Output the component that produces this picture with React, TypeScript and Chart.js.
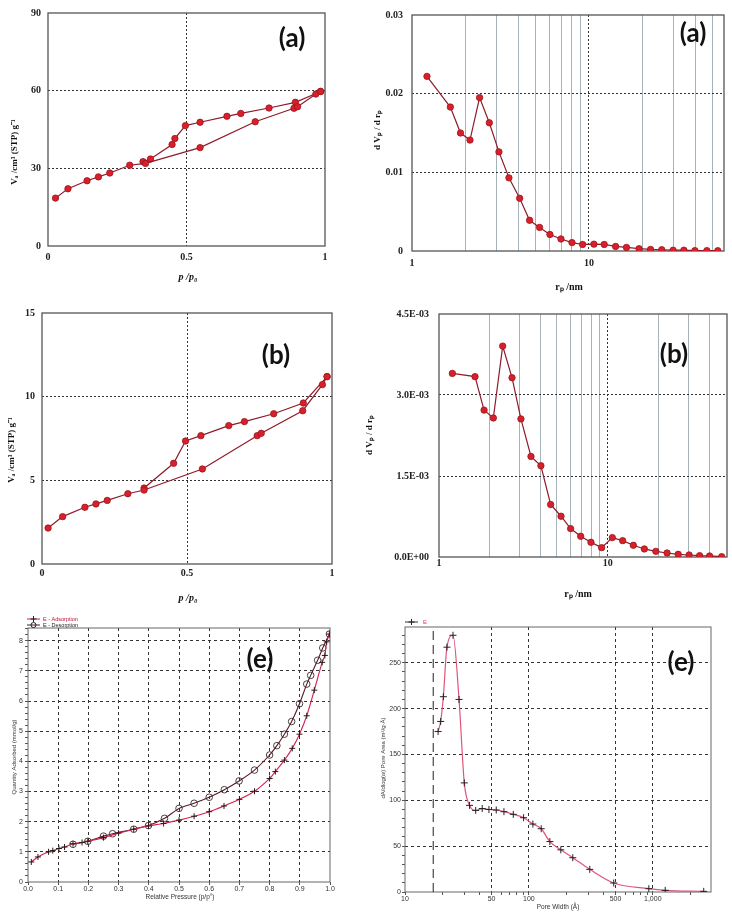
import React, { useEffect, useRef } from 'react';
import { Chart, registerables } from 'chart.js';

Chart.register(...registerables);

// ---------------- DATA ----------------
// (a) isotherm  p/p0 vs Va
const isoA_adsP = [0.027, 0.072, 0.141, 0.182, 0.223, 0.295, 0.352, 0.549, 0.748, 0.888, 0.901, 0.967, 0.984];
const isoA_adsV = [18.5, 22.1, 25.2, 26.7, 28.2, 31.2, 31.9, 38.0, 48.0, 53.2, 53.8, 58.7, 59.7];
const isoA_desP = [0.984, 0.893, 0.798, 0.696, 0.646, 0.549, 0.496, 0.458, 0.448, 0.37, 0.343];
const isoA_desV = [59.7, 55.5, 53.3, 51.2, 50.1, 47.8, 46.5, 41.5, 39.2, 33.6, 32.6];

// (a) pore size distribution  rp vs dVp/drp
const psdA_r = [1.215, 1.647, 1.88, 2.127, 2.41, 2.735, 3.1, 3.53, 4.06, 4.62, 5.26, 6.02, 6.95, 8.02, 9.21, 10.67, 12.2, 14.15, 16.3, 19.2, 22.3, 25.8, 29.9, 34.4, 39.7, 46.4, 53.5];
const psdA_dv = [0.0222, 0.0183, 0.015, 0.0141, 0.0195, 0.0163, 0.0126, 0.0093, 0.0067, 0.0039, 0.003, 0.0021, 0.00153, 0.00107, 0.00083, 0.00087, 0.00083, 0.00058, 0.00045, 0.00029, 0.0002, 0.00016, 0.0001, 0.0001, 0.00005, 0.00005, 0.00004];

// (b) isotherm
const isoB_adsP = [0.021, 0.071, 0.148, 0.186, 0.225, 0.296, 0.352, 0.553, 0.742, 0.756, 0.899, 0.967, 0.983];
const isoB_adsV = [2.15, 2.83, 3.39, 3.59, 3.8, 4.2, 4.42, 5.68, 7.67, 7.81, 9.16, 10.72, 11.2];
const isoB_desP = [0.983, 0.901, 0.799, 0.698, 0.644, 0.548, 0.495, 0.454, 0.352];
const isoB_desV = [11.2, 9.62, 8.98, 8.51, 8.27, 7.67, 7.35, 6.02, 4.54];

// (b) pore size distribution
const psdB_r = [1.2, 1.635, 1.85, 2.1, 2.386, 2.71, 3.06, 3.51, 4.02, 4.59, 5.29, 6.03, 6.92, 7.96, 9.21, 10.66, 12.27, 14.2, 16.5, 19.3, 22.5, 26.2, 30.4, 35.1, 40.2, 47.4];
const psdB_dv = [3.4e-3, 3.34e-3, 2.72e-3, 2.575e-3, 3.906e-3, 3.32e-3, 2.557e-3, 1.863e-3, 1.69e-3, 0.972e-3, 0.755e-3, 0.526e-3, 0.384e-3, 0.272e-3, 0.173e-3, 0.359e-3, 0.303e-3, 0.217e-3, 0.149e-3, 0.105e-3, 0.074e-3, 0.05e-3, 0.037e-3, 0.025e-3, 0.019e-3, 0.006e-3];

// (e) isotherm  relative pressure vs quantity adsorbed (mmol/g)
const isoE_adsP = [0.011, 0.033, 0.068, 0.082, 0.1025, 0.121, 0.149, 0.179, 0.198, 0.25, 0.3, 0.35, 0.399, 0.449, 0.5, 0.55, 0.6, 0.649, 0.7, 0.75, 0.8, 0.819, 0.849, 0.875, 0.899, 0.923, 0.948, 0.974, 0.983, 0.989, 0.998];
const isoE_adsQ = [0.665, 0.83, 1.0, 1.04, 1.11, 1.16, 1.27, 1.31, 1.35, 1.47, 1.62, 1.75, 1.86, 1.94, 2.05, 2.18, 2.33, 2.52, 2.74, 3.01, 3.43, 3.66, 4.04, 4.43, 4.9, 5.51, 6.36, 7.28, 7.51, 7.96, 8.22];
const isoE_desP = [0.998, 0.976, 0.959, 0.936, 0.923, 0.899, 0.873, 0.849, 0.824, 0.8, 0.75, 0.699, 0.65, 0.6, 0.55, 0.5, 0.452, 0.399, 0.35, 0.28, 0.25, 0.198, 0.149];
const isoE_desQ = [8.22, 7.76, 7.35, 6.85, 6.56, 5.91, 5.32, 4.9, 4.52, 4.21, 3.71, 3.35, 3.06, 2.81, 2.61, 2.44, 2.11, 1.87, 1.75, 1.6, 1.52, 1.35, 1.25];

// (e) pore area distribution  pore width (Å) vs dA/dlog(w)
const psdE_w = [18.5, 19.4, 20.4, 21.8, 24.4, 27.3, 30.1, 33.2, 37.2, 42.0, 47.6, 54.5, 62.9, 74.8, 90.6, 107.7, 125.7, 147.6, 181, 226, 310, 484, 929, 1260, 2578];
const psdE_a = [175, 186, 213, 267, 280, 210, 119, 94.5, 89, 91, 90, 89.4, 87.6, 84.7, 81, 74.1, 69, 55, 46, 37.4, 24.7, 9.8, 3.6, 1.8, 0.7];
const psdE_cutW = [16.9, 16.9];
const psdE_cutA = [0, 289];

// tick values
const isoTicksX = [0, 0.5, 1];
const isoA_ticksY = [0, 30, 60, 90];
const isoB_ticksY = [0, 5, 10, 15];
const psdA_ticksY = [0, 0.01, 0.02, 0.03];
const psdB_ticksY = [0, 1.5e-3, 3.0e-3, 4.5e-3];
const logMajor = [1, 10];
const logMinorA = [2, 3, 4, 5, 6, 7, 8, 9, 20, 30, 40, 50];
const logMinorB = [2, 3, 4, 5, 6, 7, 8, 9, 20, 30, 40];
const isoE_ticksX = [0, 0.1, 0.2, 0.3, 0.4, 0.5, 0.6, 0.7, 0.8, 0.9, 1.0];
const isoE_ticksY = Array.from({ length: 43 }, (_, i) => Math.round(i * 2) / 10);
const isoE_gridY = [1, 2, 3, 4, 5, 6, 7, 8];
const psdE_ticksX = [10, 20, 30, 40, 50, 60, 70, 80, 90, 100, 200, 300, 400, 500, 600, 700, 800, 900, 1000, 2000];
const psdE_labelsX: Record<number, string> = { 10: '10', 50: '50', 100: '100', 500: '500', 1000: '1,000' };
const psdE_gridX = [50, 100, 500, 1000];
const psdE_ticksY = Array.from({ length: 29 }, (_, i) => i * 10);
const psdE_gridY = [50, 100, 150, 200, 250];

// ---------------- HELPERS ----------------
const SERIF = '"Liberation Serif", "Times New Roman", serif';
const SANS = '"Liberation Sans", Arial, sans-serif';
const TAG = 'Lato, "Open Sans", sans-serif';

const pts = (xs: number[], ys: number[]) => xs.map((x, i) => ({ x, y: ys[i] }));
const inList = (v: number, list: number[]) => list.some((w) => Math.abs(v - w) <= 1e-9 * Math.max(1, Math.abs(w)));
const sci = (v: number) => {
  if (v === 0) return '0.0E+00';
  const e = Math.floor(Math.log10(v) + 1e-9);
  const m = v / Math.pow(10, e);
  return m.toFixed(1) + 'E' + (e < 0 ? '-' : '+') + String(Math.abs(e)).padStart(2, '0');
};

type AxisOpts = {
  type?: 'linear' | 'logarithmic';
  position: 'left' | 'bottom';
  min: number; max: number;
  values: number[];
  label: (v: number) => string;
  size: number; pad: number;
  font: any; color: string;
  gridAt: number[]; gridColor: string; gridDash: number[];
  minorAt?: number[]; minorColor?: string;
  tickLen?: number;
};

function axis(o: AxisOpts) {
  const styleOf = (v: number | undefined) => {
    if (v === undefined || v === null) return { c: 'rgba(0,0,0,0)', d: [] as number[] };
    if (inList(v, o.gridAt)) return { c: o.gridColor, d: o.gridDash };
    if (o.minorAt && inList(v, o.minorAt)) return { c: o.minorColor || '#aaa', d: [] as number[] };
    return { c: 'rgba(0,0,0,0)', d: [] as number[] };
  };
  return {
    type: o.type || 'linear',
    position: o.position,
    min: o.min,
    max: o.max,
    afterBuildTicks: (s: any) => { s.ticks = o.values.map((v) => ({ value: v })); },
    afterFit: (s: any) => { if (o.position === 'left') s.width = o.size; else s.height = o.size; },
    ticks: {
      autoSkip: false, maxRotation: 0, minRotation: 0, padding: o.pad,
      font: o.font, color: o.color,
      callback: (v: any) => o.label(Number(v)),
    },
    grid: {
      color: (c: any) => styleOf(c.tick ? c.tick.value : undefined).c,
      lineWidth: 1,
      drawTicks: !!o.tickLen,
      tickLength: o.tickLen || 0,
      tickColor: '#555',
      tickWidth: 1,
    },
    border: { display: false, dash: (c: any) => styleOf(c.tick ? c.tick.value : undefined).d },
  };
}

type TextItem = { t: string; x: number; y: number; font: string; color?: string; rot?: number; align?: CanvasTextAlign };

type PanelDef = {
  left: number; top: number; width: number; height: number;
  padT: number; padR: number;
  datasets: any[];
  x: any; y: any;
  texts: TextItem[];
  frame: { color: string; width: number };
  extra?: (ctx: CanvasRenderingContext2D) => void;
};

function legendRow(ctx: CanvasRenderingContext2D, x0: number, x1: number, y: number, marker: 'cross' | 'circle', lineColor: string, text: string, textColor: string, gap: number, size: number) {
  ctx.strokeStyle = lineColor;
  ctx.lineWidth = 1;
  ctx.beginPath(); ctx.moveTo(x0, y); ctx.lineTo(x1, y); ctx.stroke();
  const cx = (x0 + x1) / 2;
  ctx.strokeStyle = '#222';
  ctx.beginPath();
  if (marker === 'cross') {
    ctx.moveTo(cx - 3, y); ctx.lineTo(cx + 3, y); ctx.moveTo(cx, y - 3); ctx.lineTo(cx, y + 3);
  } else {
    ctx.arc(cx, y, 2.5, 0, Math.PI * 2);
  }
  ctx.stroke();
  ctx.font = `${size}px ${SANS}`;
  ctx.fillStyle = textColor;
  ctx.textAlign = 'left';
  ctx.textBaseline = 'middle';
  ctx.fillText(text, x1 + gap, y);
}

function overlay(def: PanelDef) {
  return {
    id: 'overlay',
    beforeDatasetsDraw(chart: any) {
      const { ctx, chartArea: a } = chart;
      ctx.save();
      ctx.strokeStyle = def.frame.color;
      ctx.lineWidth = def.frame.width;
      ctx.strokeRect(a.left, a.top, a.right - a.left, a.bottom - a.top);
      ctx.restore();
    },
    afterDraw(chart: any) {
      const ctx: CanvasRenderingContext2D = chart.ctx;
      for (const t of def.texts) {
        ctx.save();
        ctx.translate(t.x - def.left, t.y - def.top);
        if (t.rot) ctx.rotate((t.rot * Math.PI) / 180);
        ctx.font = t.font;
        ctx.fillStyle = t.color || '#111';
        ctx.textAlign = t.align || 'center';
        ctx.textBaseline = 'middle';
        ctx.fillText(t.t, 0, 0);
        ctx.restore();
      }
      if (def.extra) {
        ctx.save();
        ctx.translate(-def.left, -def.top);
        def.extra(ctx);
        ctx.restore();
      }
    },
  };
}

function buildConfig(def: PanelDef) {
  return {
    type: 'line',
    data: { datasets: def.datasets },
    options: {
      animation: false,
      responsive: false,
      devicePixelRatio: 1,
      layout: { padding: { top: def.padT, right: def.padR, left: 0, bottom: 0 } },
      plugins: { legend: { display: false }, tooltip: { enabled: false } },
      scales: { x: def.x, y: def.y },
    },
    plugins: [overlay(def)],
  };
}

// ---------------- STYLES ----------------
const isoLine = {
  borderColor: '#8e1b2b', borderWidth: 1.2, pointRadius: 3.2,
  pointBackgroundColor: '#d8202a', pointBorderColor: '#9a1520', pointBorderWidth: 0.8,
  tension: 0, fill: false,
};
const tickSerif = { family: SERIF, size: 10, weight: 'bold' };
const tickSans = { family: SANS, size: 7 };
const DOT = [2, 2];
const DASH = [3, 3];
const MINOR = '#a6b3ba';

// ---------------- PANELS ----------------
const A1: PanelDef = {
  left: 0, top: 0, width: 340, height: 295, padT: 7, padR: 15,
  datasets: [
    { ...isoLine, data: pts(isoA_adsP, isoA_adsV) },
    { ...isoLine, data: pts(isoA_desP, isoA_desV) },
  ],
  x: axis({ position: 'bottom', min: 0, max: 1, values: isoTicksX, label: (v) => String(v), size: 49, pad: 5, font: tickSerif, color: '#222', gridAt: [0.5], gridColor: '#333', gridDash: DOT }),
  y: axis({ position: 'left', min: 0, max: 90, values: isoA_ticksY, label: (v) => String(v), size: 48, pad: 7, font: tickSerif, color: '#222', gridAt: [30, 60], gridColor: '#333', gridDash: DOT }),
  texts: [
    { t: 'Vₐ /cm³ (STP) g⁻¹', x: 15, y: 152, font: `bold 9px ${SERIF}`, rot: -90 },
    { t: 'p /p₀', x: 188, y: 277, font: `italic bold 10px ${SERIF}` },
    { t: '(a)', x: 292, y: 39, font: `bold 26px ${TAG}` },
  ],
  frame: { color: '#555', width: 1.3 },
};

const A2: PanelDef = {
  left: 366, top: 0, width: 366, height: 300, padT: 8, padR: 8,
  datasets: [{ ...isoLine, data: pts(psdA_r, psdA_dv) }],
  x: axis({ type: 'logarithmic', position: 'bottom', min: 1, max: 58, values: [...logMajor, ...logMinorA].sort((a, b) => a - b), label: (v) => (inList(v, logMajor) ? String(v) : ''), size: 49, pad: 6, font: tickSerif, color: '#222', gridAt: [10], gridColor: '#333', gridDash: DOT, minorAt: logMinorA, minorColor: MINOR }),
  y: axis({ position: 'left', min: 0, max: 0.03, values: psdA_ticksY, label: (v) => String(v), size: 46, pad: 9, font: tickSerif, color: '#222', gridAt: [0.01, 0.02], gridColor: '#333', gridDash: DOT }),
  texts: [
    { t: 'd Vₚ / d rₚ', x: 378, y: 130, font: `bold 9px ${SERIF}`, rot: -90 },
    { t: 'rₚ /nm', x: 569, y: 287, font: `bold 10px ${SERIF}` },
    { t: '(a)', x: 693, y: 34, font: `bold 26px ${TAG}` },
  ],
  frame: { color: '#555', width: 1.3 },
};

const B1: PanelDef = {
  left: 0, top: 295, width: 345, height: 310, padT: 18, padR: 13,
  datasets: [
    { ...isoLine, data: pts(isoB_adsP, isoB_adsV) },
    { ...isoLine, data: pts(isoB_desP, isoB_desV) },
  ],
  x: axis({ position: 'bottom', min: 0, max: 1, values: isoTicksX, label: (v) => String(v), size: 41, pad: 3, font: tickSerif, color: '#222', gridAt: [0.5], gridColor: '#333', gridDash: DOT }),
  y: axis({ position: 'left', min: 0, max: 15, values: isoB_ticksY, label: (v) => String(v), size: 42, pad: 7, font: tickSerif, color: '#222', gridAt: [5, 10], gridColor: '#333', gridDash: DOT }),
  texts: [
    { t: 'Vₐ /cm³ (STP) g⁻¹', x: 12, y: 450, font: `bold 9px ${SERIF}`, rot: -90 },
    { t: 'p /p₀', x: 188, y: 598, font: `italic bold 10px ${SERIF}` },
    { t: '(b)', x: 276, y: 356, font: `bold 26px ${TAG}` },
  ],
  frame: { color: '#555', width: 1.3 },
};

const B2: PanelDef = {
  left: 366, top: 295, width: 366, height: 305, padT: 19, padR: 5,
  datasets: [{ ...isoLine, data: pts(psdB_r, psdB_dv) }],
  x: axis({ type: 'logarithmic', position: 'bottom', min: 1, max: 51, values: [...logMajor, ...logMinorB].sort((a, b) => a - b), label: (v) => (inList(v, logMajor) ? String(v) : ''), size: 43, pad: 0, font: tickSerif, color: '#222', gridAt: [10], gridColor: '#333', gridDash: DOT, minorAt: logMinorB, minorColor: MINOR }),
  y: axis({ position: 'left', min: 0, max: 4.5e-3, values: psdB_ticksY, label: (v) => sci(v), size: 73, pad: 10, font: tickSerif, color: '#222', gridAt: [1.5e-3, 3.0e-3], gridColor: '#333', gridDash: DOT }),
  texts: [
    { t: 'd Vₚ / d rₚ', x: 370, y: 435, font: `bold 9px ${SERIF}`, rot: -90 },
    { t: 'rₚ /nm', x: 578, y: 594, font: `bold 10px ${SERIF}` },
    { t: '(b)', x: 674, y: 355, font: `bold 26px ${TAG}` },
  ],
  frame: { color: '#555', width: 1.3 },
};

const E1: PanelDef = {
  left: 0, top: 605, width: 366, height: 310, padT: 23, padR: 36,
  datasets: [
    { data: pts(isoE_adsP, isoE_adsQ), borderColor: '#d4234f', borderWidth: 1.1, pointStyle: 'cross', pointRadius: 3, pointBorderColor: '#2a1a1a', pointBorderWidth: 1, tension: 0.25, fill: false },
    { data: pts(isoE_desP, isoE_desQ), borderColor: '#5a1a28', borderWidth: 1.1, pointStyle: 'circle', pointRadius: 3.3, pointBackgroundColor: 'rgba(0,0,0,0)', pointBorderColor: '#3a2a2a', pointBorderWidth: 0.9, tension: 0.25, fill: false },
  ],
  x: axis({ position: 'bottom', min: 0, max: 1, values: isoE_ticksX, label: (v) => v.toFixed(1), size: 33, pad: 0, font: tickSans, color: '#333', gridAt: [0.1, 0.2, 0.3, 0.4, 0.5, 0.6, 0.7, 0.8, 0.9], gridColor: '#333', gridDash: DASH, tickLen: 3 }),
  y: axis({ position: 'left', min: 0, max: 8.42, values: isoE_ticksY, label: (v) => (Math.abs(v - Math.round(v)) < 1e-6 ? String(Math.round(v)) : ''), size: 28, pad: 2, font: tickSans, color: '#333', gridAt: isoE_gridY, gridColor: '#333', gridDash: DASH, tickLen: 3 }),
  texts: [
    { t: 'Quantity Adsorbed (mmol/g)', x: 14, y: 757, font: `6px ${SANS}`, rot: -90, color: '#333' },
    { t: 'Relative Pressure (p/p°)', x: 180, y: 897, font: `6.5px ${SANS}`, color: '#333' },
    { t: '(e)', x: 260, y: 660, font: `bold 26px ${TAG}` },
  ],
  frame: { color: '#666', width: 1 },
  extra: (ctx) => {
    legendRow(ctx, 27, 40, 619, 'cross', '#c8254a', 'E - Adsorption', '#c0103a', 3, 5.5);
    legendRow(ctx, 27, 40, 625, 'circle', '#4a1a22', 'E - Desorption', '#222', 3, 5.5);
  },
};

const E2: PanelDef = {
  left: 366, top: 600, width: 366, height: 315, padT: 27, padR: 21,
  datasets: [
    { data: pts(psdE_w, psdE_a), borderColor: '#e0557a', borderWidth: 1.2, pointStyle: 'cross', pointRadius: 3.5, pointBorderColor: '#222', pointBorderWidth: 1, cubicInterpolationMode: 'monotone', fill: false },
    { data: pts(psdE_cutW, psdE_cutA), borderColor: '#222', borderWidth: 1, borderDash: [9, 5], pointRadius: 0, fill: false },
  ],
  x: axis({ type: 'logarithmic', position: 'bottom', min: 10, max: 2950, values: psdE_ticksX, label: (v) => psdE_labelsX[v] || '', size: 23, pad: 0, font: tickSans, color: '#333', gridAt: psdE_gridX, gridColor: '#333', gridDash: DASH, tickLen: 3 }),
  y: axis({ position: 'left', min: 0, max: 289, values: psdE_ticksY, label: (v) => (inList(v, [0, ...psdE_gridY]) ? String(v) : ''), size: 39, pad: 1, font: tickSans, color: '#333', gridAt: psdE_gridY, gridColor: '#333', gridDash: DASH, tickLen: 3 }),
  texts: [
    { t: 'dA/dlog(w) Pore Area (m²/g·Å)', x: 383, y: 758, font: `6px ${SANS}`, rot: -90, color: '#333' },
    { t: 'Pore Width (Å)', x: 558, y: 907, font: `6.5px ${SANS}`, color: '#333' },
    { t: '(e)', x: 681, y: 663, font: `bold 26px ${TAG}` },
  ],
  frame: { color: '#666', width: 1 },
  extra: (ctx) => {
    legendRow(ctx, 405, 418, 622, 'cross', '#333', 'E', '#d0406a', 5, 6);
  },
};

const PANELS: PanelDef[] = [A1, A2, B1, B2, E1, E2];

function Panel({ def }: { def: PanelDef }) {
  const ref = useRef<HTMLCanvasElement | null>(null);
  useEffect(() => {
    const cv = ref.current;
    if (!cv) return;
    const chart = new Chart(cv, buildConfig(def) as any);
    return () => chart.destroy();
  }, [def]);
  return (
    <canvas
      ref={ref}
      width={def.width}
      height={def.height}
      style={{ position: 'absolute', left: def.left, top: def.top, width: def.width, height: def.height }}
    />
  );
}

export default function App() {
  return (
    <div style={{ position: 'absolute', left: 0, top: 0, width: 732, height: 915, background: '#fff', overflow: 'hidden' }}>
      {PANELS.map((d, i) => (
        <Panel key={i} def={d} />
      ))}
    </div>
  );
}
